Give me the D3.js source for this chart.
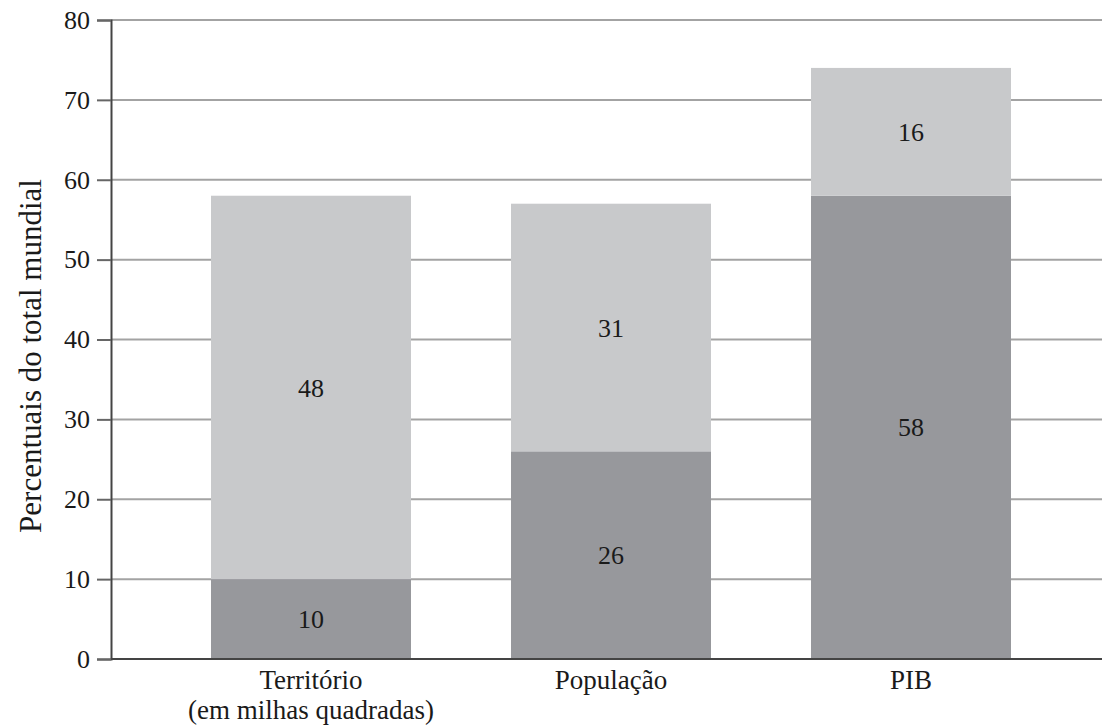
<!DOCTYPE html>
<html>
<head>
<meta charset="utf-8">
<script src="https://cdn.jsdelivr.net/npm/d3@7"></script>
<style>
  html, body { margin: 0; padding: 0; background: #fff; }
  svg { display: block; }
  svg text { font-family: "Liberation Serif", "Times New Roman", Tinos, "DejaVu Serif", "Noto Serif", Georgia, serif; fill: #1a1a1a; }
</style>
</head>
<body>
<svg id="chart" width="1102" height="725"></svg>
<script>
// Stacked shares of the world total
const categories = ["Território", "População", "PIB"];
const categoryLines = [["Território", "(em milhas quadradas)"], ["População"], ["PIB"]];
const lowerValues = [10, 26, 58];
const upperValues = [48, 31, 16];
const yTicks = [0, 10, 20, 30, 40, 50, 60, 70, 80];
const yTitle = "Percentuais do total mundial";

const W = 1102;
const serif = "'Liberation Serif', 'Times New Roman', Tinos, 'DejaVu Serif', 'Noto Serif', Georgia, serif";
const svg = d3.select("#chart");

const x = d3.scaleBand()
  .domain(categories)
  .range([111, 1111])
  .paddingInner(1 / 3)
  .paddingOuter(1 / 3);

const y = d3.scaleLinear().domain([0, 80]).range([659, 20]);

// Horizontal grid lines across the full width
svg.append("g")
  .selectAll("line")
  .data(yTicks.filter(d => d > 0))
  .join("line")
  .attr("x1", 111).attr("x2", W)
  .attr("y1", d => y(d)).attr("y2", d => y(d))
  .attr("stroke", "#a3a3a3")
  .attr("stroke-width", 2);

const rows = categories.map((c, i) => ({ c, lo: lowerValues[i], hi: upperValues[i] }));

// Lower (dark) segments
svg.append("g")
  .selectAll("rect")
  .data(rows)
  .join("rect")
  .attr("x", d => x(d.c))
  .attr("width", x.bandwidth())
  .attr("y", d => y(d.lo))
  .attr("height", d => y(0) - y(d.lo))
  .attr("fill", "#97989c");

// Upper (light) segments
svg.append("g")
  .selectAll("rect")
  .data(rows)
  .join("rect")
  .attr("x", d => x(d.c))
  .attr("width", x.bandwidth())
  .attr("y", d => y(d.lo + d.hi))
  .attr("height", d => y(d.lo) - y(d.lo + d.hi))
  .attr("fill", "#c8c9cb");

// Segment value labels
const lbl = svg.append("g")
  .attr("text-anchor", "middle")
  .style("font-family", serif)
  .style("font-size", "26px");
lbl.selectAll("text.lo")
  .data(rows)
  .join("text")
  .attr("class", "lo")
  .attr("x", d => x(d.c) + x.bandwidth() / 2)
  .attr("y", d => y(d.lo / 2))
  .attr("dy", "0.35em")
  .text(d => d.lo);
lbl.selectAll("text.hi")
  .data(rows)
  .join("text")
  .attr("class", "hi")
  .attr("x", d => x(d.c) + x.bandwidth() / 2)
  .attr("y", d => y(d.lo + d.hi / 2))
  .attr("dy", "0.35em")
  .text(d => d.hi);

// Baseline
svg.append("line")
  .attr("x1", 111).attr("x2", W)
  .attr("y1", y(0)).attr("y2", y(0))
  .attr("stroke", "#444")
  .attr("stroke-width", 2);

// Y axis
const yAxis = svg.append("g")
  .attr("transform", "translate(111,0)")
  .call(d3.axisLeft(y).tickValues(yTicks).tickSize(14).tickPadding(7));
yAxis.attr("font-family", null).attr("font-size", null);
yAxis.select(".domain").attr("stroke", "#444").attr("stroke-width", 2);
yAxis.selectAll(".tick line").attr("stroke", "#666").attr("stroke-width", 2);
yAxis.selectAll(".tick text")
  .style("font-family", serif)
  .style("font-size", "26px")
  .attr("fill", "#1a1a1a");

// Y title
svg.append("text")
  .attr("transform", `translate(41,356) rotate(-90)`)
  .attr("text-anchor", "middle")
  .style("font-family", serif)
  .style("font-size", "31px")
  .text(yTitle);

// Category labels
const cat = svg.append("g")
  .attr("text-anchor", "middle")
  .style("font-family", serif)
  .style("font-size", "27px");
categories.forEach((c, i) => {
  const t = cat.append("text")
    .attr("x", x(c) + x.bandwidth() / 2)
    .attr("y", 689);
  categoryLines[i].forEach((line, j) => {
    t.append("tspan")
      .attr("x", x(c) + x.bandwidth() / 2)
      .attr("dy", j === 0 ? 0 : 30)
      .text(line);
  });
});
</script>
</body>
</html>
